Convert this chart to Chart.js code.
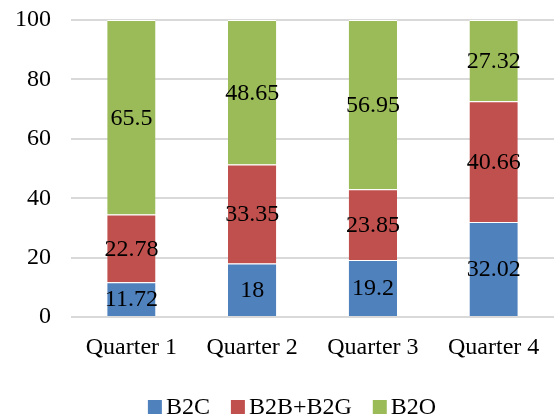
<!DOCTYPE html>
<html>
<head>
<meta charset="utf-8">
<script src="https://cdn.jsdelivr.net/npm/chart.js@4/dist/chart.umd.min.js"></script>
<style>
  html, body { margin: 0; padding: 0; background: #fff; }
  #wrap { width: 554px; height: 417px; }
</style>
</head>
<body>
<div id="wrap"><canvas id="quarterChart" width="554" height="417"></canvas></div>
<script>
// dati
const quarters = ["Quarter 1", "Quarter 2", "Quarter 3", "Quarter 4"];
const b2c = [11.72, 18, 19.2, 32.02];
const b2bB2g = [22.78, 33.35, 23.85, 40.66];
const b2o = [65.5, 48.65, 56.95, 27.32];
const yTicks = [0, 20, 40, 60, 80, 100];

const FONT = "'Liberation Serif', 'Times New Roman', serif";

// etichette dentro le barre
const barLabels = {
    id: "barLabels",
    afterDatasetsDraw(chart) {
        const ctx = chart.ctx;
        ctx.save();
        ctx.font = "24px " + FONT;
        ctx.fillStyle = "#000";
        ctx.textAlign = "center";
        ctx.textBaseline = "middle";
        chart.data.datasets.forEach((ds, i) => {
            const meta = chart.getDatasetMeta(i);
            meta.data.forEach((bar, j) => {
                const y = (bar.y + bar.base) / 2;
                ctx.fillText(String(ds.data[j]), bar.x, y + 1);
            });
        });
        ctx.restore();
    },
};

// legenda disegnata a mano (quadratino vicino al testo)
const bottomLegend = {
    id: "bottomLegend",
    afterDraw(chart) {
        const ctx = chart.ctx;
        const box = 14, gap = 4, spacing = 21;
        ctx.save();
        ctx.font = "24px " + FONT;
        ctx.textBaseline = "middle";
        ctx.textAlign = "left";
        const items = chart.data.datasets.map((ds) => ({
            text: ds.label,
            color: ds.backgroundColor,
            w: ctx.measureText(ds.label).width,
        }));
        const total = items.reduce((s, it) => s + box + gap + it.w, 0) + spacing * (items.length - 1);
        let x = chart.width / 2 + 15 - total / 2;
        const y = chart.height - 10;
        items.forEach((it) => {
            ctx.fillStyle = it.color;
            ctx.fillRect(x, y - box / 2, box, box);
            x += box + gap;
            ctx.fillStyle = "#000";
            ctx.fillText(it.text, x, y + 1);
            x += it.w + spacing;
        });
        ctx.restore();
    },
};

const CTX = document.getElementById("quarterChart").getContext("2d");

new Chart(CTX, {
    type: "bar",
    data: {
        labels: quarters,
        datasets: [
            { label: "B2C", data: b2c, backgroundColor: "#4f81bd" },
            { label: "B2B+B2G", data: b2bB2g, backgroundColor: "#c0504d" },
            { label: "B2O", data: b2o, backgroundColor: "#9bbb59" },
        ].map((d) => ({
            ...d,
            borderColor: "#ffffff",
            borderWidth: { top: 1, bottom: 0, left: 0, right: 0 },
            barPercentage: 0.4,
            categoryPercentage: 1,
        })),
    },
    options: {
        responsive: false,
        animation: false,
        layout: { padding: { top: 0, right: 0, left: 0, bottom: 40 } },
        scales: {
            x: {
                stacked: true,
                grid: { display: false },
                border: { display: false },
                ticks: { color: "#000", font: { family: FONT, size: 24 }, padding: 8 },
                afterFit: (axis) => {
                    axis.height = 60; // spazio fino alla legenda
                },
            },
            y: {
                stacked: true,
                min: 0,
                max: 100,
                afterBuildTicks: (axis) => {
                    axis.ticks = yTicks.map((v) => ({ value: v }));
                },
                afterFit: (axis) => {
                    axis.width -= 5;
                },
                grid: { color: "#d9d9d9", lineWidth: 2, drawTicks: false },
                border: { display: false },
                ticks: { color: "#000", font: { family: FONT, size: 24, lineHeight: 0.01 }, padding: 20 },
            },
        },
        plugins: {
            legend: { display: false },
            tooltip: { enabled: false },
        },
    },
    plugins: [barLabels, bottomLegend],
});
</script>
</body>
</html>
